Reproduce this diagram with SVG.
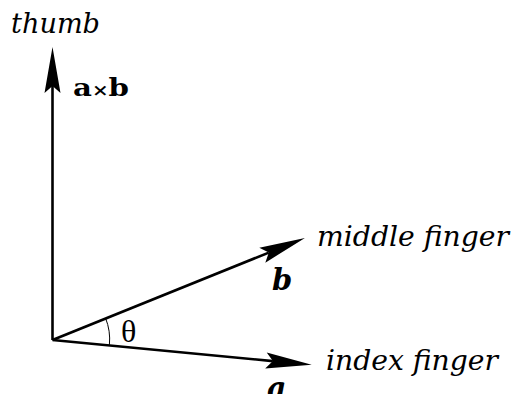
<svg xmlns="http://www.w3.org/2000/svg" width="515" height="394" viewBox="0 0 515 394">
<style>
.ax{stroke:#000;stroke-width:2.6;fill:none;marker-end:url(#ah)}
.lbl{font-family:"DejaVu Serif","Liberation Serif",serif;font-style:italic;font-size:27px;fill:#000}
.vec{font-family:"DejaVu Serif","Liberation Serif",serif;font-weight:bold;fill:#000}
</style>
<defs>
<marker id="ah" markerUnits="userSpaceOnUse" viewBox="0 0 46 16" refX="7" refY="8" markerWidth="46" markerHeight="16" orient="auto" overflow="visible">
<path d="M0,0 L46,8 L0,16 L7,8 Z" fill="#000"/>
</marker>
</defs>
<rect width="515" height="394" fill="#fff"/>
<g id="connectors">
<line class="ax" x1="52.5" y1="340" x2="52.5" y2="86"/>
<line class="ax" x1="52.5" y1="340" x2="268.8" y2="252.6"/>
<line class="ax" x1="52.5" y1="340" x2="272.9" y2="361.1"/>
<path d="M105.5,318 A57,57 0 0 1 109.4,344.9" fill="none" stroke="#000" stroke-width="1"/>
</g>
<g id="thumb"><text class="lbl" x="11" y="33" textLength="89" lengthAdjust="spacingAndGlyphs">thumb</text></g>
<g id="axb"><text class="vec" x="73" y="96" font-size="25" textLength="56" lengthAdjust="spacingAndGlyphs">a<tspan font-size="17">×</tspan>b</text></g>
<g id="middle"><text class="lbl" x="317" y="246" textLength="192" lengthAdjust="spacingAndGlyphs">middle finger</text></g>
<g id="b"><text class="vec" x="272" y="290" font-size="29" font-style="italic">b</text></g>
<g id="index"><text class="lbl" x="326" y="370" textLength="172" lengthAdjust="spacingAndGlyphs">index finger</text></g>
<g id="a"><text class="vec" x="267" y="398" font-size="30" font-style="italic">a</text></g>
<g id="theta"><text x="121" y="342" font-family="'Liberation Serif',serif" font-size="32">θ</text></g>
</svg>
